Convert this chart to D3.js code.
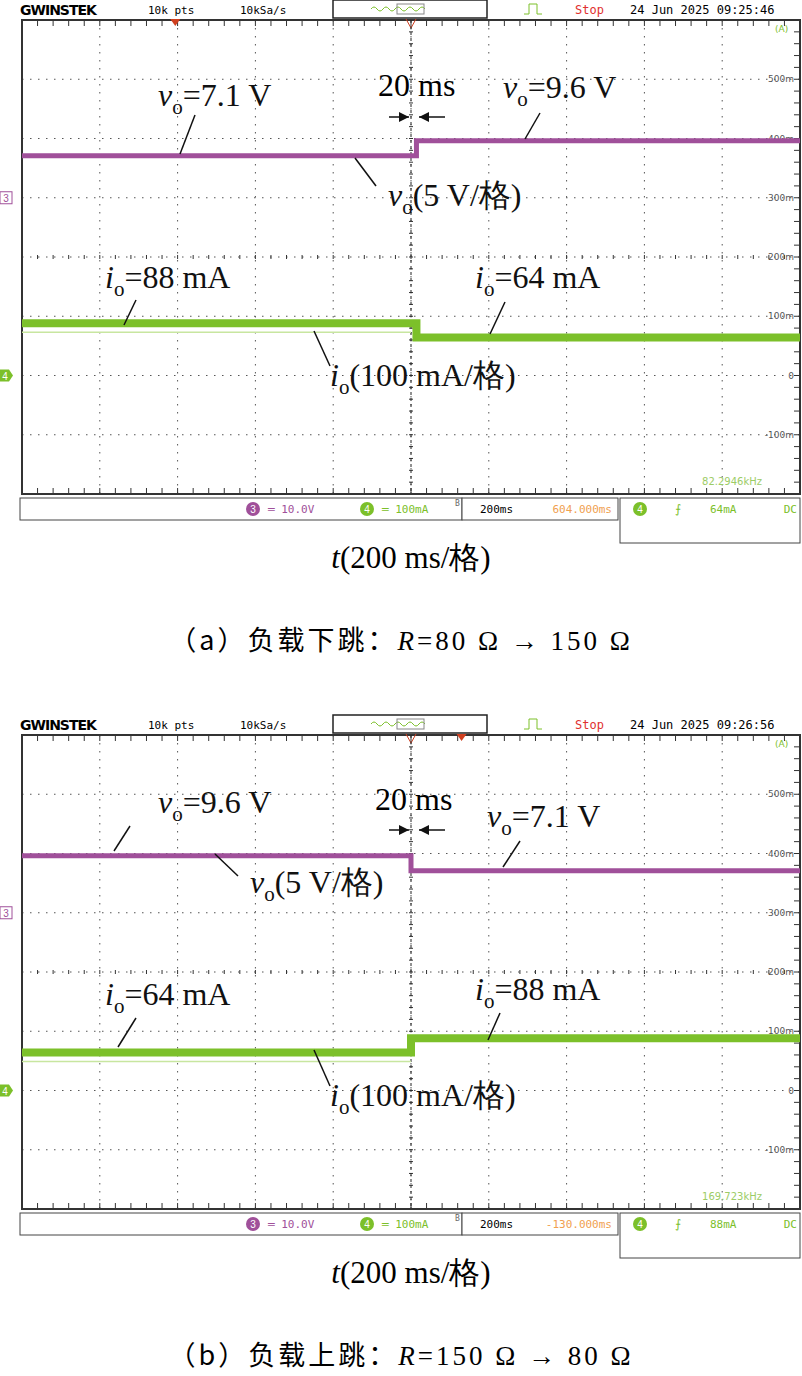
<!DOCTYPE html>
<html><head><meta charset="utf-8">
<script src="https://d3js.org/d3.v7.min.js"></script>
<style>body{margin:0;background:#fff}</style>
</head><body>
<svg id="c" width="802" height="1376"></svg>
<script>
// trace levels: [start div, end div, value]
var voA = [[0, 5.07, 7.1], [5.07, 10, 9.6]];
var ioA = [[0, 5.07, 88], [5.07, 10, 64]];
var voB = [[0, 5.0, 9.6], [5.0, 10, 7.1]];
var ioB = [[0, 5.0, 64], [5.0, 10, 88]];
var rightTicks = ["500m", "400m", "300m", "200m", "100m", "0", "-100m"];
var panels = [
  {top: 20, vo: voA, io: ioA, time: "09:25:46", freq: "82.2946kHz", pos: "604.000ms", trig: "64mA", mark: 1.97,
   labels: [
     {t: "vo", s: "=7.1 V", x: 158, y: 106, lx: [195, 115, 180, 154]},
     {t: "vo", s: "=9.6 V", x: 503, y: 98, lx: [540, 113, 525, 139]},
     {t: "vo", s: "(5 V/格)", x: 388, y: 206, lx: [376, 186, 355, 158]},
     {t: "io", s: "=88 mA", x: 105, y: 288, lx: [136, 300, 124, 325]},
     {t: "io", s: "=64 mA", x: 475, y: 288, lx: [505, 302, 490, 334]},
     {t: "io", s: "(100 mA/格)", x: 330, y: 386, lx: [330, 366, 314, 331]}],
   ms: {x: 378, y: 96, ay: 117}, cap: "（a）负载下跳：", r1: "=80 Ω → 150 Ω"},
  {top: 735, vo: voB, io: ioB, time: "09:26:56", freq: "169.723kHz", pos: "-130.000ms", trig: "88mA", mark: 5.65,
   labels: [
     {t: "vo", s: "=9.6 V", x: 158, y: 813, lx: [130, 826, 114, 851]},
     {t: "vo", s: "=7.1 V", x: 487, y: 827, lx: [520, 841, 503, 867]},
     {t: "vo", s: "(5 V/格)", x: 250, y: 893, lx: [238, 876, 215, 854]},
     {t: "io", s: "=64 mA", x: 105, y: 1005, lx: [136, 1018, 118, 1047]},
     {t: "io", s: "=88 mA", x: 475, y: 1000, lx: [500, 1013, 488, 1040]},
     {t: "io", s: "(100 mA/格)", x: 330, y: 1106, lx: [330, 1086, 314, 1050]}],
   ms: {x: 375, y: 810, ay: 830}, cap: "（b）负载上跳：", r1: "=150 Ω → 80 Ω"}
];

var svg = d3.select("#c");
var serif = "'Liberation Serif','Times New Roman',serif";
var mono = "'DejaVu Sans Mono',monospace";
var purple = "#a0509a", green = "#7cc02a";

panels.forEach(function(p)
{
  var x = d3.scaleLinear().domain([0, 10]).range([22, 800]);
  var y = d3.scaleLinear().domain([-4, 4]).range([p.top + 474, p.top]);
  var g = svg.append("g");
  var H = p.top - 10;

  // header
  g.append("text").attr("x", 20).attr("y", H + 5).attr("font-family", "'DejaVu Sans',sans-serif").attr("font-weight", "bold").attr("font-size", 14).attr("letter-spacing", -1).text("GWINSTEK");
  g.append("text").attr("x", 148).attr("y", H + 4).attr("font-family", mono).attr("font-size", 11).text("10k pts");
  g.append("text").attr("x", 240).attr("y", H + 4).attr("font-family", mono).attr("font-size", 11).text("10kSa/s");
  g.append("rect").attr("x", 333).attr("y", H - 10).attr("width", 154).attr("height", 18).attr("fill", "#fff").attr("stroke", "#222").attr("stroke-width", 1.5);
  g.append("path").attr("d", "M371," + (H - 1) + "q3,-4 6,0t6,0t6,0t6,0t6,0t6,0t6,0t6,0t6,0").attr("fill", "none").attr("stroke", green);
  g.append("rect").attr("x", 397).attr("y", H - 6).attr("width", 27).attr("height", 10).attr("fill", "none").attr("stroke", "#888");
  g.append("path").attr("d", "M524," + (H + 4) + "h5v-10h8v10h5").attr("fill", "none").attr("stroke", green);
  g.append("text").attr("x", 575).attr("y", H + 4).attr("font-family", mono).attr("font-size", 12).attr("fill", "#e03030").text("Stop");
  g.append("text").attr("x", 630).attr("y", H + 4).attr("font-family", mono).attr("font-size", 12).text("24 Jun 2025 " + p.time);

  // grid
  var gridX = d3.range(1, 10), gridY = d3.range(-3, 4);
  g.selectAll(".gx").data(gridX).enter().append("line")
    .attr("x1", function(d){ return x(d); }).attr("x2", function(d){ return x(d); })
    .attr("y1", y(4)).attr("y2", y(-4)).attr("stroke", "#555").attr("stroke-dasharray", "1.5,6.5");
  g.selectAll(".gy").data(gridY).enter().append("line")
    .attr("x1", x(0)).attr("x2", x(10)).attr("y1", function(d){ return y(d); }).attr("y2", function(d){ return y(d); })
    .attr("stroke", "#555").attr("stroke-dasharray", "1.5,6.5");
  var minorX = d3.range(0, 10.01, 0.2), minorY = d3.range(-4, 4.01, 0.2);
  g.selectAll(".mx").data(minorX).enter().append("line")
    .attr("x1", function(d){ return x(d); }).attr("x2", function(d){ return x(d); })
    .attr("y1", y(4)).attr("y2", y(4) + 6).attr("stroke", "#333");
  g.selectAll(".mx2").data(minorX).enter().append("line")
    .attr("x1", function(d){ return x(d); }).attr("x2", function(d){ return x(d); })
    .attr("y1", y(-4)).attr("y2", y(-4) - 6).attr("stroke", "#333");
  g.selectAll(".my").data(minorY).enter().append("line")
    .attr("x1", x(10)).attr("x2", x(10) - 6).attr("y1", function(d){ return y(d); }).attr("y2", function(d){ return y(d); }).attr("stroke", "#333");
  g.selectAll(".mc").data(minorY).enter().append("line")
    .attr("x1", x(5) - 2).attr("x2", x(5) + 2).attr("y1", function(d){ return y(d); }).attr("y2", function(d){ return y(d); }).attr("stroke", "#333");
  g.selectAll(".mh").data(minorX).enter().append("line")
    .attr("x1", function(d){ return x(d); }).attr("x2", function(d){ return x(d); })
    .attr("y1", y(0) - 2).attr("y2", y(0) + 2).attr("stroke", "#333");
  g.append("rect").attr("x", x(0)).attr("y", y(4)).attr("width", x(10) - x(0)).attr("height", y(-4) - y(4))
    .attr("fill", "none").attr("stroke", "#333").attr("stroke-width", 2);

  // right scale labels
  g.append("text").attr("x", 775).attr("y", y(3.8)).attr("font-family", "'DejaVu Sans',sans-serif").attr("font-size", 9).attr("fill", green).text("(A)");
  g.selectAll(".rt").data(rightTicks).enter().append("text")
    .attr("x", 794).attr("y", function(d, i){ return y(3 - i) + 3; }).attr("text-anchor", "end")
    .attr("font-family", "'DejaVu Sans',sans-serif").attr("font-size", 9).attr("fill", "#555").text(function(d){ return d; });

  // markers
  g.append("path").attr("d", "M" + (x(p.mark) - 5) + "," + (y(4) - 1) + "l5,7l5,-7z").attr("fill", "#d04020");
  g.append("path").attr("d", "M" + (x(5) - 5) + "," + (y(4) - 1) + "l5,9l5,-9").attr("fill", "none").attr("stroke", "#d04020");
  g.append("line").attr("x1", x(5)).attr("x2", x(5)).attr("y1", y(4)).attr("y2", y(-4)).attr("stroke", "#222").attr("stroke-dasharray", "3,3");
  g.append("rect").attr("x", 0).attr("y", y(1) - 6).attr("width", 12).attr("height", 12).attr("fill", "#fff").attr("stroke", purple);
  g.append("text").attr("x", 6).attr("y", y(1) + 4).attr("text-anchor", "middle").attr("font-size", 10).attr("font-family", "sans-serif").attr("fill", purple).text("3");
  g.append("path").attr("d", "M0," + (y(-2) - 6) + "h9l4,6l-4,6h-9z").attr("fill", green);
  g.append("text").attr("x", 5).attr("y", y(-2) + 4).attr("text-anchor", "middle").attr("font-size", 10).attr("font-family", "sans-serif").attr("fill", "#fff").text("4");
  g.append("text").attr("x", 762).attr("y", y(-3.85)).attr("text-anchor", "end").attr("font-family", "'DejaVu Sans',sans-serif").attr("font-size", 10).attr("fill", "#9ccc66").text(p.freq);

  // traces
  var vDiv = function(v){ return 1 + v / 10; };
  var iDiv = function(i){ return -2 + i / 100; };
  g.append("line").attr("x1", x(0)).attr("x2", x(5)).attr("y1", y(iDiv(p.io[0][2]) - 0.15)).attr("y2", y(iDiv(p.io[0][2]) - 0.15)).attr("stroke", "#c8e6a0").attr("stroke-width", 1.5);
  var tr = function(data, f, col, w)
  {
    var pts = [];
    data.forEach(function(s){ pts.push([s[0], f(s[2])]); pts.push([s[1], f(s[2])]); });
    g.append("path").attr("d", d3.line().x(function(d){ return x(d[0]); }).y(function(d){ return y(d[1]); })(pts))
      .attr("fill", "none").attr("stroke", col).attr("stroke-width", w);
  };
  tr(p.vo, vDiv, purple, 5);
  tr(p.io, iDiv, green, 8);

  // status bar
  var S = p.top + 478;
  g.append("rect").attr("x", 20).attr("y", S).attr("width", 442).attr("height", 22).attr("fill", "#fff").attr("stroke", "#444");
  g.append("rect").attr("x", 462).attr("y", S).attr("width", 156).attr("height", 22).attr("fill", "#fff").attr("stroke", "#444");
  g.append("rect").attr("x", 620).attr("y", S).attr("width", 180).attr("height", 45).attr("fill", "#fff").attr("stroke", "#444");
  g.append("circle").attr("cx", 253).attr("cy", S + 11).attr("r", 7).attr("fill", purple);
  g.append("text").attr("x", 253).attr("y", S + 15).attr("text-anchor", "middle").attr("font-size", 10).attr("font-family", "sans-serif").attr("fill", "#fff").text("3");
  g.append("text").attr("x", 268).attr("y", S + 15).attr("font-family", mono).attr("font-size", 11).attr("fill", purple).text("═ 10.0V");
  g.append("circle").attr("cx", 367).attr("cy", S + 11).attr("r", 7).attr("fill", green);
  g.append("text").attr("x", 367).attr("y", S + 15).attr("text-anchor", "middle").attr("font-size", 10).attr("font-family", "sans-serif").attr("fill", "#fff").text("4");
  g.append("text").attr("x", 382).attr("y", S + 15).attr("font-family", mono).attr("font-size", 11).attr("fill", green).text("═ 100mA");
  g.append("text").attr("x", 455).attr("y", S + 8).attr("font-family", mono).attr("font-size", 8).attr("fill", "#666").text("B");
  g.append("text").attr("x", 480).attr("y", S + 15).attr("font-family", mono).attr("font-size", 11).text("200ms");
  g.append("text").attr("x", 612).attr("y", S + 15).attr("text-anchor", "end").attr("font-family", mono).attr("font-size", 11).attr("fill", "#f0a050").text(p.pos);
  g.append("circle").attr("cx", 640).attr("cy", S + 11).attr("r", 7).attr("fill", green);
  g.append("text").attr("x", 640).attr("y", S + 15).attr("text-anchor", "middle").attr("font-size", 10).attr("font-family", "sans-serif").attr("fill", "#fff").text("4");
  g.append("text").attr("x", 675).attr("y", S + 15).attr("font-family", mono).attr("font-size", 12).attr("fill", green).text("⨍");
  g.append("text").attr("x", 710).attr("y", S + 15).attr("font-family", mono).attr("font-size", 11).attr("fill", green).text(p.trig);
  g.append("text").attr("x", 797).attr("y", S + 15).attr("text-anchor", "end").attr("font-family", mono).attr("font-size", 11).attr("fill", green).text("DC");

  // annotations
  p.labels.forEach(function(l)
  {
    var t = g.append("text").attr("x", l.x).attr("y", l.y).attr("font-family", serif).attr("font-size", 32).attr("fill", "#111");
    t.append("tspan").attr("font-style", "italic").text(l.t[0]);
    t.append("tspan").attr("font-size", 21).attr("dy", 8).text(l.t[1]);
    t.append("tspan").attr("dy", -8).text(l.s);
    g.append("line").attr("x1", l.lx[0]).attr("y1", l.lx[1]).attr("x2", l.lx[2]).attr("y2", l.lx[3]).attr("stroke", "#111").attr("stroke-width", 1.5);
  });
  g.append("text").attr("x", p.ms.x).attr("y", p.ms.y).attr("font-family", serif).attr("font-size", 32).text("20 ms");
  var ay = p.ms.ay, xa = x(5) - 2, xb = x(5) + 8;
  g.append("line").attr("x1", xa - 20).attr("x2", xa).attr("y1", ay).attr("y2", ay).attr("stroke", "#111").attr("stroke-width", 1.5);
  g.append("line").attr("x1", xb).attr("x2", xb + 26).attr("y1", ay).attr("y2", ay).attr("stroke", "#111").attr("stroke-width", 1.5);
  g.append("path").attr("d", "M" + xa + "," + ay + "l-10,-5v10z").attr("fill", "#111");
  g.append("path").attr("d", "M" + xb + "," + ay + "l10,-5v10z").attr("fill", "#111");

  // captions
  var tc = g.append("text").attr("x", 411).attr("y", p.top + 548).attr("text-anchor", "middle").attr("font-family", serif).attr("font-size", 31);
  tc.append("tspan").attr("font-style", "italic").text("t");
  tc.append("tspan").text("(200 ms/格)");
  var cc = g.append("text").attr("x", 401).attr("y", p.top + 630).attr("text-anchor", "middle").attr("font-family", "'Noto Sans CJK SC',serif").attr("font-size", 27).attr("letter-spacing", 3);
  cc.append("tspan").text(p.cap);
  cc.append("tspan").attr("font-family", serif).attr("font-style", "italic").text("R");
  cc.append("tspan").attr("font-family", serif).text(p.r1);
});
</script>
</body></html>
